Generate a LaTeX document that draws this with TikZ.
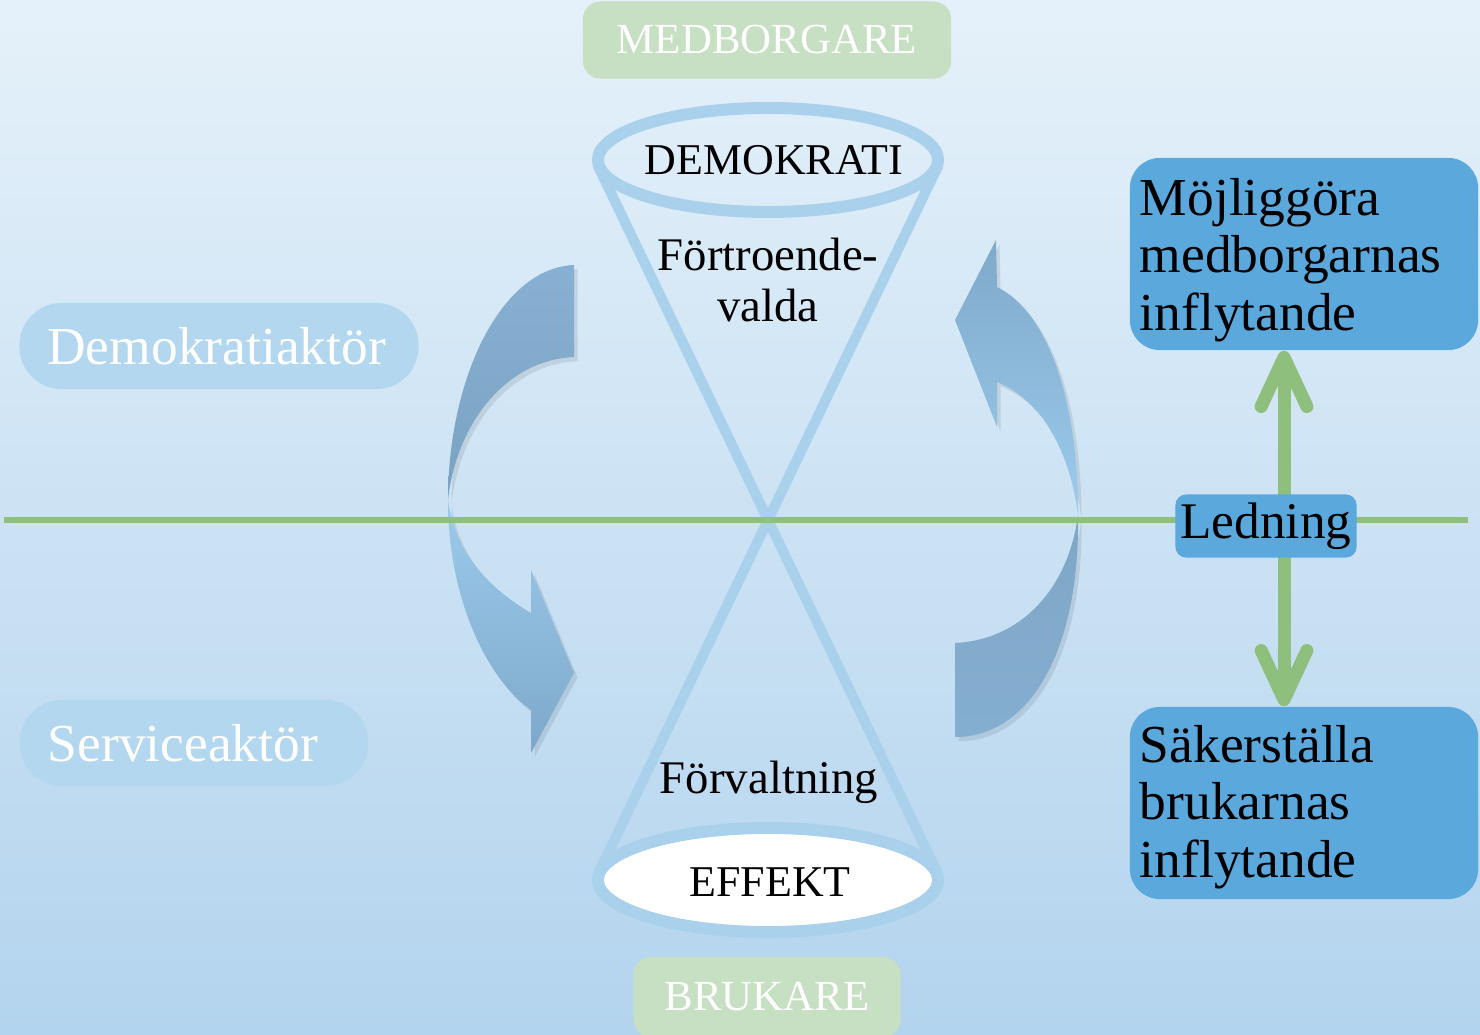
\documentclass[tikz,border=0pt]{standalone}
\usepackage{fontspec}
\setmainfont{Liberation Serif}
\usetikzlibrary{calc,shapes.geometric,arrows.meta}

\definecolor{bgtop}{HTML}{E5F1FA}
\definecolor{bgbot}{HTML}{B3D4EE}
\definecolor{palegreen}{HTML}{C7DFC2}
\definecolor{linegreen}{HTML}{8FBF7D}
\definecolor{funnel}{HTML}{A9D1EC}
\definecolor{capsule}{HTML}{B3D7EF}
\definecolor{goalblue}{HTML}{5BA8DC}
\definecolor{arrowA}{HTML}{87B0D2}
\definecolor{arrowB}{HTML}{7AA2C2}
\definecolor{arrowC}{HTML}{9CCBEC}
\definecolor{arrowD}{HTML}{7EA8CA}
\definecolor{arrowE}{HTML}{80A9CB}
\definecolor{arrowF}{HTML}{9BCBEC}
\definecolor{arrowG}{HTML}{7FA6C6}
\definecolor{arrowH}{HTML}{84AED0}

\tikzset{
  greenlabel/.style={fill=palegreen, rounded corners=5pt, text=white,
    font=\fontsize{12.2}{14}\selectfont, inner sep=0pt},
  rolelabel/.style={fill=capsule, rounded corners=12pt, text=white,
    font=\fontsize{15.2}{18}\selectfont, inner ysep=0pt, align=left},
  goalbox/.style={fill=goalblue, rounded corners=8.5pt, minimum width=3.48cm,
    minimum height=1.92cm, inner sep=0pt},
  goaltext/.style={anchor=west, text width=3.3cm, align=left, inner sep=0pt,
    font=\fontsize{15.2}{16.3}\selectfont},
  funnelline/.style={draw=funnel, line width=2.9pt},
  funnelrim/.style={draw=funnel, line width=3.4pt},
  funneltext/.style={font=\fontsize{13.3}{14.6}\selectfont, align=center},
  rimtext/.style={font=\fontsize{12.5}{14}\selectfont},
  cyclearrow/.style={preaction={fill=black, fill opacity=0.09,
    transform canvas={shift={(1pt,-1.2pt)}}}},
  levelarrow/.style={draw=linegreen, line width=3.7pt,
    {Straight Barb[length=14pt, width=13pt, line cap=round, line join=round]}-{Straight Barb[length=14pt, width=13pt, line cap=round, line join=round]}}
}

\begin{document}
\begin{tikzpicture}[x=0.01cm, y=-0.01cm]
  % page and background
  \useasboundingbox (0,0) rectangle (1480,1034);
  \shade[top color=bgtop, bottom color=bgbot] (0,0) rectangle (1480,1034);

  % hourglass: two rims and the crossing sides
  \coordinate (cross) at (768,520);
  \node[ellipse, funnelrim, minimum width=3.40cm, minimum height=1.04cm] (demokrati) at (768,160) {};
  \draw[funnelline] (598,166) -- (cross) -- (938,874);
  \draw[funnelline] (938,166) -- (cross) -- (598,874);
  \node[ellipse, funnelrim, fill=white, minimum width=3.40cm, minimum height=1.04cm] (effekt) at (768,880) {};
  \node[rimtext] at ($(demokrati.center)+(6,0)$) {DEMOKRATI};
  \node[rimtext] at ($(effekt.center)+(2,2)$) {EFFEKT};

  \node[funneltext] (fortroende) at (768,280) {Förtroende-\\valda};
  \node[funneltext] (forvaltning) at (769,782) {Förvaltning};

  % left cycle arrow (top part, then lower part with head)
  \shade[cyclearrow, top color=arrowA, bottom color=arrowB]
    (574,265) .. controls (500,268) and (448,380) .. (448,500)
    .. controls (456,425) and (505,360) .. (574,357) -- cycle;
  \shade[cyclearrow, top color=arrowC, bottom color=arrowD]
    (448,500) .. controls (448,600) and (488,680) .. (531,710)
    -- (531,753) -- (574,673) -- (531,570) -- (531,613)
    .. controls (492,590) and (455,555) .. (448,500) -- cycle;

  % right cycle arrow (upper part with head, then lower part)
  \shade[cyclearrow, top color=arrowE, bottom color=arrowF]
    (997,287) .. controls (1048,312) and (1078,400) .. (1078,515)
    .. controls (1070,452) and (1042,400) .. (997,382)
    -- (997,427) -- (955,320) -- (996,240) -- cycle;
  \shade[cyclearrow, top color=arrowG, bottom color=arrowH]
    (1078,515) .. controls (1080,650) and (1030,737) .. (955,737)
    -- (955,643) .. controls (1020,640) and (1068,590) .. (1078,515) -- cycle;

  % dividing line between the two levels
  \coordinate (lineW) at (4,520);
  \coordinate (lineE) at (1468,520);
  \draw[linegreen, line width=1.7pt] (lineW) -- (lineE);

  % citizens and users
  \node[greenlabel, minimum width=3.68cm, minimum height=0.77cm] (medborgare) at (767,40) {MEDBORGARE};
  \node[greenlabel, minimum width=2.67cm, minimum height=0.80cm] (brukare) at (767,997) {BRUKARE};

  % roles
  \node[rolelabel, minimum width=3.99cm, minimum height=0.86cm, text width=3.43cm, inner xsep=0.28cm]
    (demoaktor) at (219,346) {Demokratiaktör};
  \node[rolelabel, minimum width=3.48cm, minimum height=0.86cm, text width=2.92cm, inner xsep=0.28cm]
    (serviceaktor) at (194,743) {Serviceaktör};

  % goals on the right
  \node[goalbox] (mojliggora) at (1304,254) {};
  \node[goaltext] at ($(mojliggora.west)+(10,6)$) {Möjliggöra\\medborgarnas\\inflytande};
  \node[goalbox] (sakerstalla) at (1304,803) {};
  \node[goaltext] at ($(sakerstalla.west)+(10,4)$) {Säkerställa\\brukarnas\\inflytande};

  \coordinate (upTip) at ($(mojliggora.south)+(-20,0)$);
  \coordinate (downTip) at ($(sakerstalla.north)+(-20,0)$);
  \draw[levelarrow] (upTip) -- (downTip);

  \node[fill=goalblue, rounded corners=3pt, minimum width=1.81cm, minimum height=0.63cm,
        inner sep=0pt, font=\fontsize{14.6}{16}\selectfont] (ledning) at (1266,526) {Ledning};
\end{tikzpicture}
\end{document}
